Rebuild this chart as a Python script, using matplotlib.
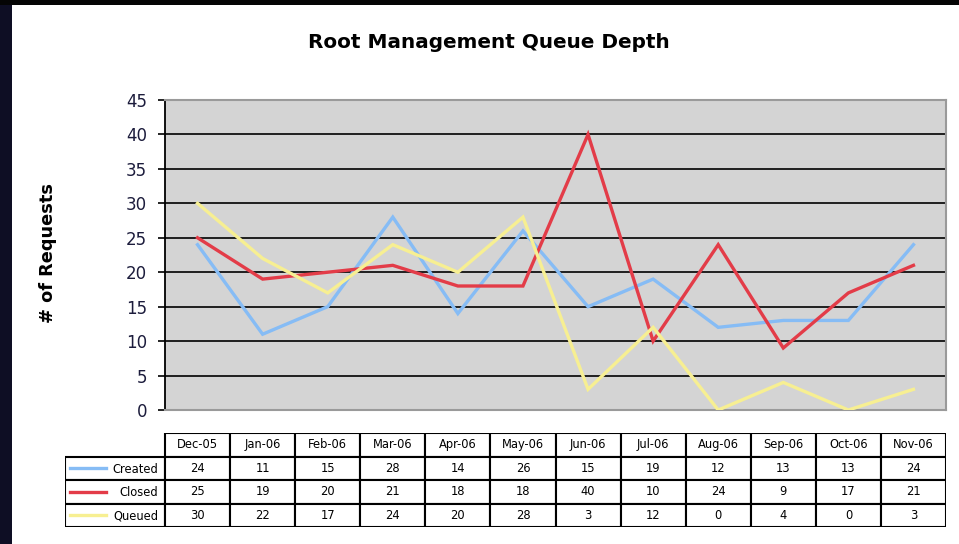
import matplotlib
matplotlib.use("Agg")
import matplotlib.pyplot as plt
from matplotlib.patches import Rectangle
from matplotlib.lines import Line2D

months = ["Dec-05", "Jan-06", "Feb-06", "Mar-06", "Apr-06", "May-06",
          "Jun-06", "Jul-06", "Aug-06", "Sep-06", "Oct-06", "Nov-06"]
series_names = ["Created", "Closed", "Queued"]
created = [24, 11, 15, 28, 14, 26, 15, 19, 12, 13, 13, 24]
closed = [25, 19, 20, 21, 18, 18, 40, 10, 24, 9, 17, 21]
queued = [30, 22, 17, 24, 20, 28, 3, 12, 0, 4, 0, 3]
series_values = [created, closed, queued]
series_colors = ["#86bcf5", "#e33c48", "#f7ef92"]
y_ticks = [0, 5, 10, 15, 20, 25, 30, 35, 40, 45]

W, H = 959, 544
fig = plt.figure(figsize=(W / 100, H / 100), dpi=100)
fig.patch.set_facecolor("white")

# dark outer frame
fig.add_artist(Rectangle((0, 0), 12 / W, 1, transform=fig.transFigure,
                         facecolor="#0e0e24", edgecolor="none", zorder=0))
fig.add_artist(Rectangle((0, 1 - 5 / H), 1, 5 / H, transform=fig.transFigure,
                         facecolor="#050505", edgecolor="none", zorder=0))

# plot area
L, R, T, B = 165, 946, 100, 410
ax = fig.add_axes([L / W, 1 - B / H, (R - L) / W, (B - T) / H])
ax.set_facecolor("#d4d4d4")
x = list(range(len(months)))
for vals, col in zip(series_values, series_colors):
    ax.plot(x, vals, color=col, lw=2.4, solid_joinstyle="miter", zorder=3)
ax.set_xlim(-0.5, len(months) - 0.5)
ax.set_ylim(0, 45)
ax.set_yticks(y_ticks)
ax.set_yticklabels([str(t) for t in y_ticks], fontsize=12, color="#1c1c3c")
ax.set_xticks([])
ax.tick_params(axis="y", direction="out", length=5, width=1.2, color="black", pad=8)
for t in y_ticks[1:-1]:
    ax.axhline(t, color="#111111", lw=1.3, zorder=2)
for s in ["top", "right", "bottom"]:
    ax.spines[s].set_color("#9a9a9a")
    ax.spines[s].set_linewidth(1.5)
ax.spines["left"].set_color("black")
ax.spines["left"].set_linewidth(1.3)

fig.text(489 / W, 1 - 42 / H, "Root Management Queue Depth", ha="center", va="center",
         fontsize=14.4, fontweight="bold", color="black")
fig.text(48 / W, 1 - 253 / H, "# of Requests", ha="center", va="center",
         rotation=90, fontsize=12.8, fontweight="bold", color="black")

# data table
TL, TR, TT, TB = 65, 946, 433, 527
tax = fig.add_axes([TL / W, 1 - TB / H, (TR - TL) / W, (TB - TT) / H])
colw = (R - L) / len(months)
lab_w = (L - TL) / colw
tax.set_xlim(-lab_w, len(months))
tax.set_ylim(0, 4)
tax.axis("off")
lw = 1.5
fs = 8.3
# header cells
for i, m in enumerate(months):
    tax.add_patch(Rectangle((i, 3), 1, 1, facecolor="white", edgecolor="black", lw=lw))
    tax.text(i + 0.5, 3.5, m, ha="center", va="center", fontsize=fs, color="black")
# data rows
for r, (name, vals, col) in enumerate(zip(series_names, series_values, series_colors)):
    yb = 2 - r
    tax.add_patch(Rectangle((-lab_w, yb), lab_w, 1, facecolor="white", edgecolor="black", lw=lw))
    tax.add_line(Line2D([-lab_w + 0.08, -lab_w + 0.63], [yb + 0.5, yb + 0.5], color=col, lw=2.4))
    tax.text(-0.1, yb + 0.45, name, ha="right", va="center", fontsize=fs, color="black")
    for i, v in enumerate(vals):
        tax.add_patch(Rectangle((i, yb), 1, 1, facecolor="white", edgecolor="black", lw=lw))
        tax.text(i + 0.5, yb + 0.5, str(v), ha="center", va="center", fontsize=fs, color="black")

fig.savefig("out.png", dpi=100)
